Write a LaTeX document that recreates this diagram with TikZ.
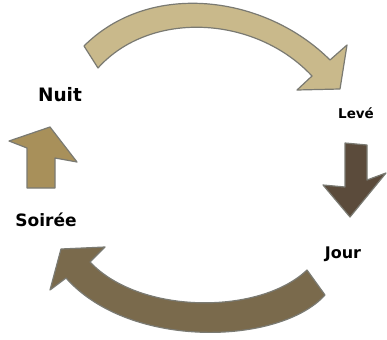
\documentclass[tikz,border=0pt]{standalone}
\usepackage{fontspec}
\setmainfont{DejaVu Sans}
\definecolor{toparr}{HTML}{C9B98B}
\definecolor{leftarr}{HTML}{A8905A}
\definecolor{rightarr}{HTML}{5B4B3B}
\definecolor{botarr}{HTML}{7A6A4C}
\definecolor{edgegray}{HTML}{7A7A72}
\begin{document}
\begin{tikzpicture}[x=1pt,y=-1pt,
  arrowshape/.style={draw=edgegray,line width=1.2pt,line join=round},
  lbl/.style={text=black,inner sep=0pt}]
\useasboundingbox (0,0) rectangle (387,339);
% top arrow
\draw[arrowshape,fill=toparr] (84,46) .. controls (150,-20) and (265,-5) .. (330,60)
  -- (347,45) -- (340,89) -- (297,90) -- (312,76)
  .. controls (255,15) and (150,10) .. (98,68) -- cycle;
% right arrow (down)
\draw[arrowshape,fill=rightarr] (345,143) -- (367,145) -- (367,180) -- (386,173)
  -- (350,217) -- (323,185) -- (345,187) -- cycle;
% bottom arrow
\draw[arrowshape,fill=botarr] (325,295) .. controls (280,345) and (130,350) .. (66,278)
  -- (50,290) -- (61,249) -- (105,247) -- (90,262)
  .. controls (140,315) and (260,315) .. (307,270) -- cycle;
% left arrow (up)
\draw[arrowshape,fill=leftarr] (27,188) -- (27,148) -- (9,141) -- (50,127)
  -- (77,162) -- (55,158) -- (55,188) -- cycle;
% labels
\node[lbl,font=\bfseries\fontsize{18.5}{19}\selectfont,anchor=base] (nuit) at (60,102) {Nuit};
\node[lbl,font=\bfseries\fontsize{13.5}{14}\selectfont,anchor=base] (leve) at (356,118) {Levé};
\node[lbl,font=\bfseries\fontsize{17}{17}\selectfont,anchor=base] (soiree) at (46,226) {Soirée};
\node[lbl,font=\bfseries\fontsize{16}{16}\selectfont,anchor=base] (jour) at (343,258) {Jour};
\end{tikzpicture}
\end{document}
